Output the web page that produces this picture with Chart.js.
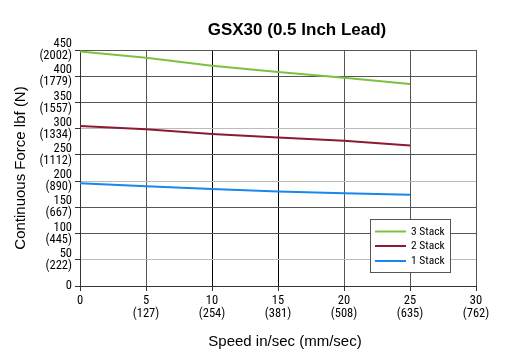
<!DOCTYPE html>
<html>
<head>
<meta charset="utf-8">
<script src="https://cdn.jsdelivr.net/npm/chart.js@4"></script>
<style>
html,body{margin:0;padding:0;background:#fff;}
#wrap{width:509px;height:356px;position:relative;}
</style>
</head>
<body>
<div id="wrap"><canvas id="c" width="509" height="356"></canvas></div>
<script>
const chartTitle = 'GSX30 (0.5 Inch Lead)';
const xTitle = 'Speed in/sec (mm/sec)';
const yTitle = 'Continuous Force lbf (N)';
const speeds = [0, 5, 10, 15, 20, 25];
const stack3 = [447, 435, 420, 408, 397, 385];
const stack2 = [305, 299, 290, 283, 277, 268];
const stack1 = [196, 190, 185, 180, 177, 174];
const seriesNames = ['3 Stack', '2 Stack', '1 Stack'];
const xTickMM = {0: '', 5: '(127)', 10: '(254)', 15: '(381)', 20: '(508)', 25: '(635)', 30: '(762)'};
const yTickN = {0: '', 50: '(222)', 100: '(445)', 150: '(667)', 200: '(890)', 250: '(1112)', 300: '(1334)', 350: '(1557)', 400: '(1779)', 450: '(2002)'};

const narrow = "'Roboto Condensed', 'DejaVu Sans Condensed', sans-serif";
const sans = "'Liberation Sans', Arial, sans-serif";

const colors = ['#7cc142', '#8c1a32', '#1a86ee'];
const series = [stack3, stack2, stack1];

const titlePlugin = {
  id: 'customTitle',
  afterDraw(chart) {
    const ctx = chart.ctx;
    ctx.save();
    ctx.font = 'bold 17px ' + sans;
    ctx.fillStyle = '#000';
    ctx.textAlign = 'center';
    ctx.textBaseline = 'middle';
    ctx.fillText(chartTitle, 297, 30);
    ctx.font = '15px ' + sans;
    ctx.fillText(xTitle, 285, 342);
    ctx.restore();
  }
};

const legendPlugin = {
  id: 'insideLegend',
  afterDraw(chart) {
    const ctx = chart.ctx;
    const x0 = 370, y0 = 219, w = 80, h = 53;
    ctx.save();
    ctx.fillStyle = '#fff';
    ctx.fillRect(x0, y0, w, h);
    ctx.strokeStyle = '#555';
    ctx.lineWidth = 1;
    ctx.strokeRect(x0 + 0.5, y0 + 0.5, w, h);
    const rows = [231.5, 246, 261];
    ctx.font = '11.5px ' + narrow;
    ctx.textBaseline = 'middle';
    ctx.textAlign = 'left';
    chart.data.datasets.forEach((ds, i) => {
      ctx.strokeStyle = ds.borderColor;
      ctx.lineWidth = 2;
      ctx.beginPath();
      ctx.moveTo(375, rows[i]);
      ctx.lineTo(406, rows[i]);
      ctx.stroke();
      ctx.fillStyle = '#000';
      ctx.fillText(ds.label, 411, rows[i] + 0.5);
    });
    ctx.restore();
  }
};

new Chart(document.getElementById('c'), {
  type: 'line',
  data: {
    datasets: series.map((s, i) => ({
      label: seriesNames[i],
      data: speeds.map((x, j) => ({x: x, y: s[j]})),
      borderColor: colors[i],
      backgroundColor: colors[i],
      borderWidth: 2,
      pointRadius: 0,
      tension: 0,
      fill: false
    }))
  },
  options: {
    responsive: false,
    animation: false,
    devicePixelRatio: 1,
    layout: {padding: {top: 50, right: 33, left: 0, bottom: 0}},
    plugins: {legend: {display: false}, title: {display: false}, tooltip: {enabled: false}},
    scales: {
      x: {
        type: 'linear', min: 0, max: 30,
        ticks: {
          stepSize: 5, color: '#000', padding: 4, maxRotation: 0, autoSkip: false,
          font: {family: narrow, size: 12.5, lineHeight: 1.0},
          callback: (v) => xTickMM[v] ? [String(v), xTickMM[v]] : String(v)
        },
        grid: {
          color: (c) => (c.tick && (c.tick.value === 10 || c.tick.value === 15)) ? '#000' : '#555',
          tickColor: '#333', tickLength: 5, lineWidth: 1
        },
        border: {color: '#333', width: 1},
        title: {display: false},
        afterFit: (s) => { s.height = 70; }
      },
      y: {
        min: 0, max: 450,
        ticks: {
          stepSize: 50, color: '#000', padding: 3, autoSkip: false,
          font: {family: narrow, size: 12.5, lineHeight: 0.96},
          callback: (v) => yTickN[v] ? [String(v), yTickN[v]] : String(v)
        },
        grid: {
          color: (c) => (c.tick && [50, 200, 300].includes(c.tick.value)) ? '#bbb' : '#555',
          tickColor: '#333', tickLength: 5, lineWidth: 1
        },
        border: {color: '#333', width: 1},
        title: {display: true, text: yTitle, color: '#000', font: {family: sans, size: 15}, padding: {top: 12, bottom: 0}},
        afterFit: (s) => { s.width = 80; }
      }
    }
  },
  plugins: [titlePlugin, legendPlugin]
});
</script>
</body>
</html>
